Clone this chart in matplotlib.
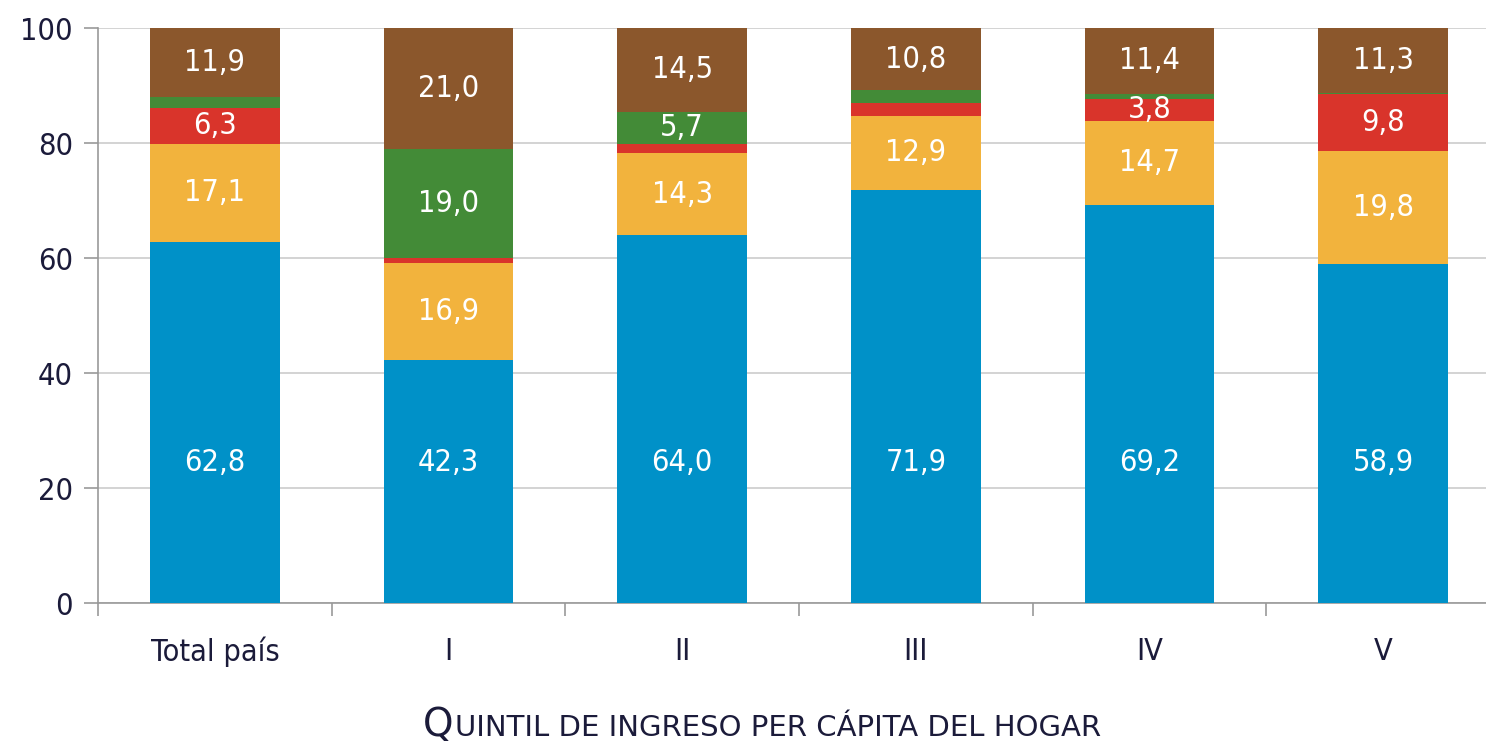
import matplotlib
matplotlib.use('Agg')
import matplotlib.pyplot as plt
from matplotlib.offsetbox import TextArea, HPacker, AnchoredOffsetbox
import numpy as np

plt.rcParams['font.family'] = ['DejaVu Sans']
plt.rcParams['font.stretch'] = 'condensed'

categories = ['Total país', 'I', 'II', 'III', 'IV', 'V']
blue   = [62.8, 42.3, 64.0, 71.9, 69.2, 58.9]
yellow = [17.1, 16.9, 14.3, 12.9, 14.7, 19.8]
red    = [6.3, 0.8, 1.5, 2.1, 3.8, 9.8]
green  = [1.9, 19.0, 5.7, 2.3, 0.9, 0.2]
brown  = [11.9, 21.0, 14.5, 10.8, 11.4, 11.3]

series = [blue, yellow, red, green, brown]
colors = ['#0091c8', '#f2b33d', '#d9342b', '#438b37', '#8b572c']

ink = '#1b1b3a'

fig = plt.figure(figsize=(14.86, 7.41), dpi=100)
ax = fig.add_axes([0.066, 0.186, 0.934, 0.776])

x = np.arange(len(categories))
bottom = np.zeros(len(categories))
for k, (vals, col) in enumerate(zip(series, colors)):
    vals = np.array(vals)
    ax.bar(x, vals, 0.555, bottom=bottom, color=col, edgecolor='none', zorder=3)
    for i, v in enumerate(vals):
        if v < 3:
            continue
        # blue labels sit at a fixed height
        y = 24.5 if k == 0 else bottom[i] + v / 2
        ax.text(x[i], y, ('%.1f' % v).replace('.', ','), ha='center', va='center',
                color='white', fontsize=22, zorder=4)
    bottom += vals

ax.set_ylim(0, 100)
ax.set_xlim(-0.5, 5.44)
ax.set_yticks(range(0, 101, 20))
ax.yaxis.grid(True, color='#cccccc', linewidth=1.2, zorder=0)
ax.set_axisbelow(True)

ax.set_xticks(x)
ax.set_xticklabels(categories)
ax.set_xticks(np.arange(-0.5, 5.5, 1), minor=True)
ax.tick_params(axis='x', which='major', length=0, pad=24, labelsize=22, labelcolor=ink)
ax.tick_params(axis='x', which='minor', length=9, color='#999999', width=1.2)
ax.tick_params(axis='y', length=10, color='#999999', width=1.2, labelsize=22,
               labelcolor=ink, pad=8)

for s in ['top', 'right']:
    ax.spines[s].set_visible(False)
for s in ['left', 'bottom']:
    ax.spines[s].set_color('#999999')
    ax.spines[s].set_linewidth(1.2)

# small-caps style axis title
big = TextArea('Q', textprops=dict(fontsize=28, color=ink, fontstretch='normal'))
small = TextArea('UINTIL DE INGRESO PER CÁPITA DEL HOGAR',
                 textprops=dict(fontsize=21, color=ink, fontstretch='normal'))
box = HPacker(children=[big, small], align='baseline', pad=0, sep=1)
anch = AnchoredOffsetbox(loc='center', child=box, frameon=False,
                         bbox_to_anchor=(0.513, 0.022),
                         bbox_transform=fig.transFigure, borderpad=0)
fig.add_artist(anch)

fig.savefig('out.png', dpi=100)
